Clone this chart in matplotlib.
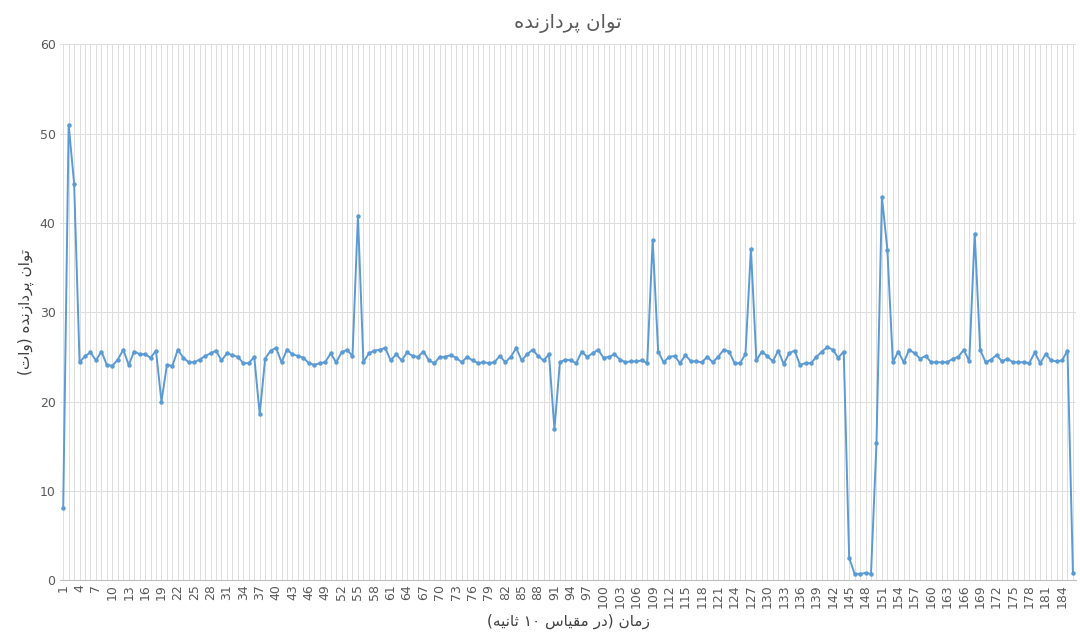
import matplotlib
matplotlib.use("Agg")
import matplotlib.pyplot as plt

title = "توان پردازنده"
ylabel = "توان پردازنده (وات)"
xlabel = "زمان (در مقیاس ۱۰ ثانیه)"

power = [8.1, 51.0, 44.4, 24.4, 25.1, 25.5, 24.6, 25.6, 24.1, 24.0,
         24.7, 25.8, 24.1, 25.6, 25.3, 25.3, 24.9, 25.7, 20.0, 24.1,
         24.0, 25.8, 24.9, 24.4, 24.4, 24.7, 25.1, 25.4, 25.7, 24.6,
         25.4, 25.2, 25.0, 24.3, 24.3, 25.0, 18.6, 24.8, 25.7, 26.0,
         24.4, 25.8, 25.3, 25.1, 24.9, 24.3, 24.1, 24.3, 24.4, 25.4,
         24.4, 25.5, 25.8, 25.1, 40.8, 24.4, 25.4, 25.7, 25.8, 26.0,
         24.6, 25.3, 24.6, 25.5, 25.1, 25.0, 25.6, 24.6, 24.3, 25.0,
         25.0, 25.2, 24.9, 24.4, 25.0, 24.6, 24.3, 24.4, 24.3, 24.4,
         25.1, 24.4, 25.0, 26.0, 24.6, 25.3, 25.8, 25.1, 24.6, 25.3,
         16.9, 24.4, 24.7, 24.6, 24.3, 25.6, 25.0, 25.4, 25.8, 24.9,
         25.0, 25.3, 24.7, 24.4, 24.5, 24.5, 24.6, 24.3, 38.1, 25.6,
         24.4, 25.0, 25.1, 24.3, 25.2, 24.5, 24.5, 24.4, 25.0, 24.4,
         25.0, 25.8, 25.6, 24.3, 24.3, 25.3, 37.1, 24.6, 25.6, 25.1,
         24.5, 25.7, 24.2, 25.4, 25.7, 24.1, 24.3, 24.3, 25.0, 25.6,
         26.1, 25.8, 24.9, 25.6, 2.5, 0.7, 0.7, 0.8, 0.7, 15.3,
         42.9, 37.0, 24.4, 25.6, 24.4, 25.8, 25.4, 24.8, 25.1, 24.4,
         24.4, 24.4, 24.4, 24.8, 25.0, 25.8, 24.5, 38.8, 25.8, 24.4,
         24.7, 25.2, 24.5, 24.8, 24.4, 24.4, 24.4, 24.3, 25.5, 24.3,
         25.3, 24.6, 24.5, 24.6, 25.7, 0.8]
x = list(range(1, len(power) + 1))

# minimal Arabic/Persian shaping + visual reordering
FORMS = {
    'ت': (0xFE95, 0xFE96, 0xFE97, 0xFE98), 'ا': (0xFE8D, 0xFE8E, None, None),
    'ن': (0xFEE5, 0xFEE6, 0xFEE7, 0xFEE8), 'پ': (0xFB56, 0xFB57, 0xFB58, 0xFB59),
    'ر': (0xFEAD, 0xFEAE, None, None), 'د': (0xFEA9, 0xFEAA, None, None),
    'ز': (0xFEAF, 0xFEB0, None, None), 'ه': (0xFEE9, 0xFEEA, 0xFEEB, 0xFEEC),
    'و': (0xFEED, 0xFEEE, None, None), 'م': (0xFEE1, 0xFEE2, 0xFEE3, 0xFEE4),
    'ق': (0xFED5, 0xFED6, 0xFED7, 0xFED8), 'ی': (0xFBFC, 0xFBFD, 0xFBFE, 0xFBFF),
    'س': (0xFEB1, 0xFEB2, 0xFEB3, 0xFEB4), 'ث': (0xFE99, 0xFE9A, 0xFE9B, 0xFE9C),
}

def shape(s):
    out = []
    for i, c in enumerate(s):
        if c not in FORMS:
            out.append(c); continue
        f = FORMS[c]
        prev = s[i-1] if i > 0 else ''
        nxt = s[i+1] if i + 1 < len(s) else ''
        jp = prev in FORMS and FORMS[prev][2] is not None
        jn = nxt in FORMS and f[2] is not None
        if jp and jn: cp = f[3]
        elif jp: cp = f[1]
        elif jn: cp = f[2]
        else: cp = f[0]
        out.append(chr(cp))
    s2 = ''.join(out)
    tokens, cur = [], ''
    for c in s2:
        if c.isdigit():
            cur += c
        else:
            if cur: tokens.append(cur); cur = ''
            tokens.append({'(': ')', ')': '('}.get(c, c))
    if cur: tokens.append(cur)
    return ''.join(reversed(tokens))

fam = ['DejaVu Sans']
fig, ax = plt.subplots(figsize=(10.8, 6.34), dpi=100)
fig.subplots_adjust(left=0.056, right=0.996, top=0.93, bottom=0.085)

ax.plot(x, power, color='#5B9BD5', lw=1.4, marker='o', ms=2.2, zorder=3)
ax.set_xlim(0.5, len(power) + 0.5)
ax.set_ylim(0, 60)
ax.set_yticks(range(0, 61, 10))
ax.set_xticks(x, minor=True)
ax.set_xticks(x[::3])
ax.set_xticklabels([str(v) for v in x[::3]], rotation=90, fontsize=9, color='#595959')
ax.tick_params(axis='y', labelsize=9, colors='#595959', length=0)
ax.tick_params(axis='x', which='both', length=0, pad=3)
ax.grid(True, which='both', axis='x', color='#DDDDDD', lw=0.7)
ax.grid(True, which='major', axis='y', color='#DDDDDD', lw=0.7)
for sp in ['top', 'right', 'left']:
    ax.spines[sp].set_visible(False)
ax.spines['bottom'].set_color('#BFBFBF')

ax.set_title(shape(title), fontsize=14, color='#595959', family=fam, pad=12)
ax.set_ylabel(shape(ylabel), fontsize=11, color='#404040', family=fam)
ax.set_xlabel(shape(xlabel), fontsize=11, color='#404040', family=fam)
fig.savefig('out.png', dpi=100)
